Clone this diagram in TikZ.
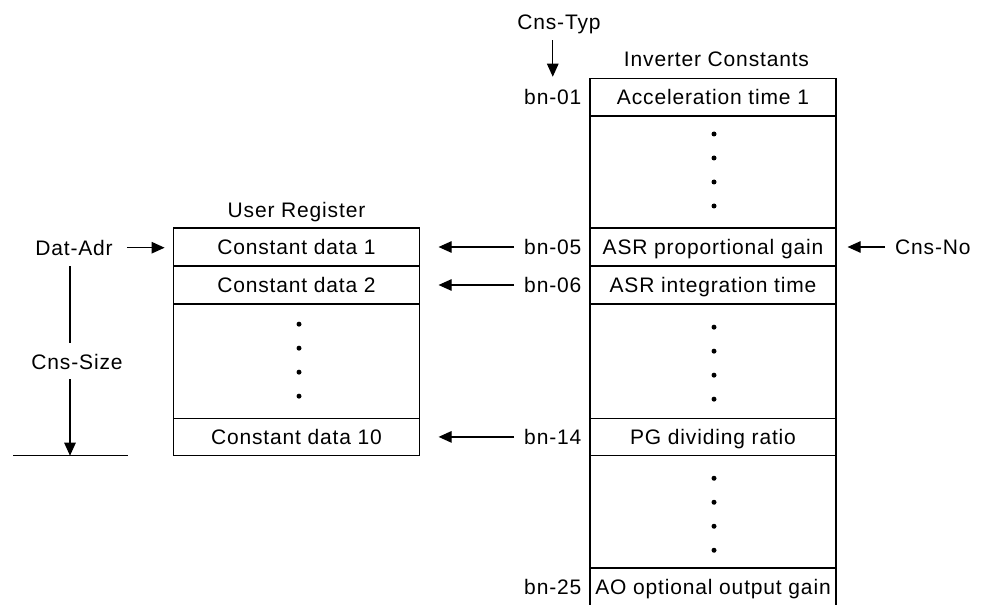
\documentclass[tikz,border=0pt]{standalone}
\usepackage{fontspec}
\setmainfont{Liberation Sans}[LetterSpace=4]
\usetikzlibrary{arrows.meta,calc}
\tikzset{
  lbl/.style={inner sep=0pt, text height=15bp, text depth=0pt},
  cell/.style={draw, line width=1.2bp, inner sep=0pt, minimum width=246bp, text height=15bp, text depth=0pt},
  arr/.style={line width=1.2bp, -{Triangle[length=13bp,width=11.5bp]}},
  ln/.style={line width=1.2bp},
  dot/.style={fill=black}
}
\begin{document}
\begin{tikzpicture}[x=1bp,y=-1bp,font=\fontsize{21bp}{25bp}\selectfont]
\useasboundingbox (0,0) rectangle (988,605);

% Inverter constants column
\node[cell, minimum height=37.7bp] (r1) at (713,97.15) {Acceleration time 1};
\node[cell, minimum height=112bp] (r2) at (713,172) {};
\node[cell, minimum height=38bp] (r3) at (713,247) {ASR proportional gain};
\node[cell, minimum height=38bp] (r4) at (713,285) {ASR integration time};
\node[cell, minimum height=114.3bp] (r5) at (713,361.15) {};
\node[cell, minimum height=37.2bp] (r6) at (713,436.9) {PG dividing ratio};
\node[cell, minimum height=112.5bp] (r7) at (713,511.75) {};
\node[cell, minimum height=38bp] (r8) at (713,587) {AO optional output gain};

% User register column
\node[cell, minimum height=38bp] (l1) at (296.5,247) {Constant data 1};
\node[cell, minimum height=38bp] (l2) at (296.5,285) {Constant data 2};
\node[cell, minimum height=114.3bp] (l3) at (296.5,361.15) {};
\node[cell, minimum height=37.2bp] (l4) at (296.5,436.9) {Constant data 10};

% dots
\foreach \d in {-38,-14,10,34} \fill[dot] ([shift={(1,\d)}]r2.center) circle[radius=2.5bp];
\foreach \d in {-34,-10,14,38} \fill[dot] ([shift={(1,\d)}]r5.center) circle[radius=2.5bp];
\foreach \d in {-33.5,-9.5,14.5,38.5} \fill[dot] ([shift={(1,\d)}]r7.center) circle[radius=2.5bp];
\foreach \d in {-37,-13,11,35} \fill[dot] ([shift={(2.5,\d)}]l3.center) circle[radius=2.5bp];

% titles
\node[lbl] (ttlR) at (716.5,59) {Inverter Constants};
\node[lbl] (ttlL) at (296.5,210.5) {User Register};

% bn labels
\node[lbl, anchor=east] (b01) at (581.5,97.15) {bn-01};
\node[lbl, anchor=east] (b05) at (581.5,247) {bn-05};
\node[lbl, anchor=east] (b06) at (581.5,285) {bn-06};
\node[lbl, anchor=east] (b14) at (581.5,436.9) {bn-14};
\node[lbl, anchor=east] (b25) at (581.5,587) {bn-25};

% other labels
\node[lbl] (cnstyp) at (559,21.7) {Cns-Typ};
\node[lbl, anchor=west] (cnsno) at (895,247) {Cns-No};
\node[lbl] (datadr) at (74,247.7) {Dat-Adr};
\node[lbl] (cnssize) at (77,361.7) {Cns-Size};

% arrows
\draw[arr, shorten <=10bp, shorten >=18.5bp] (b05.west) -- (b05.west -| l1.east);
\draw[arr, shorten <=10bp, shorten >=18.5bp] (b06.west) -- (b06.west -| l2.east);
\draw[arr, shorten <=10bp, shorten >=18.5bp] (b14.west) -- (b14.west -| l4.east);
\draw[arr, shorten <=10bp, shorten >=11bp] (cnsno.west) -- (cnsno.west -| r3.east);
\draw[arr, shorten <=14bp, shorten >=8.3bp] (datadr.east) -- (datadr.east -| l1.west);
\draw[arr, shorten <=10.8bp, shorten >=12.7bp] (cnstyp.south -| b01.north) -- (b01.north);

% Cns-Size dimension
\coordinate (sztop) at (70,266);
\coordinate (szbot) at (70,455.7);
\coordinate (baseL) at (13.3,455.7);
\coordinate (baseR) at (128.3,455.7);
\draw[ln, shorten >=11.5bp] (sztop) -- (sztop |- cnssize.north);
\draw[arr, shorten <=10bp] (szbot |- cnssize.south) -- (szbot);
\draw[ln] (baseL) -- (baseR);
\end{tikzpicture}
\end{document}
